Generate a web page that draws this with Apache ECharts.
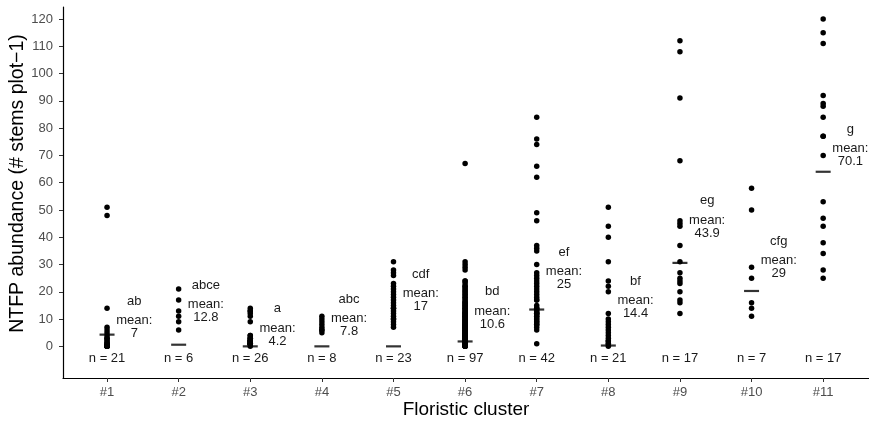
<!DOCTYPE html>
<html>
<head>
<meta charset="utf-8">
<script src="https://cdn.jsdelivr.net/npm/echarts@6/dist/echarts.min.js"></script>
<style>
  html, body { margin: 0; padding: 0; background: #fff; }
  #chart { width: 869px; height: 423px; }
</style>
</head>
<body>
<div id="chart"></div>
<script>
// Floristic clusters and their compact-letter groupings
const clusters = ['#1', '#2', '#3', '#4', '#5', '#6', '#7', '#8', '#9', '#10', '#11'];
const letters = ['ab', 'abce', 'a', 'abc', 'cdf', 'bd', 'ef', 'bf', 'eg', 'cfg', 'g'];

// NTFP abundance per plot, one array per cluster
const c1 = [51, 48, 14, 7, 6, 5, 4, 3, 3, 2, 2, 1, 1, 1, 0, 0, 0, 0, 0, 0, 0];
const c2 = [21, 17, 13, 11, 9, 6];
const c3 = [14, 13, 13, 12, 11, 9, 4, 4, 3, 3, 3, 2, 2, 2, 2, 2, 2, 1, 1, 1, 1, 1, 1, 1, 1, 0];
const c4 = [11, 10, 9, 8, 7, 6, 6, 5];
const c5 = [31, 28, 27, 26, 23, 22, 21, 20, 19, 18, 17, 16, 15, 14, 14, 13, 12, 11, 10, 10, 9, 8, 7];
const c6 = [67, 31, 30, 29, 28,
  24, 24, 23, 22, 22, 21, 21, 20, 20, 19, 19, 18, 18, 17, 17,
  16, 16, 16, 15, 15, 15, 14, 14, 14, 13, 13, 13,
  12, 12, 12, 12, 11, 11, 11, 11, 10, 10, 10, 10, 9, 9, 9, 9,
  8, 8, 8, 8, 8, 7, 7, 7, 7, 7, 6, 6, 6, 6, 6, 5, 5, 5, 5, 5,
  4, 4, 4, 4, 4, 4, 4, 4, 4,
  3, 3, 3, 3, 3, 2, 2, 2, 2, 2, 1, 1, 1, 1, 1, 0, 0, 0, 0, 0];
const c7 = [84, 76, 74, 66, 62, 49, 46, 37, 36, 35, 30,
  27, 26, 25, 24, 23, 22, 21, 20, 19, 18, 17,
  17, 15, 14, 14, 13, 13, 12, 12, 12, 11, 11, 10, 10, 9, 9, 8, 8, 7, 6, 1];
const c8 = [51, 44, 40, 31, 24, 22, 20, 12, 10, 9, 8, 7, 6, 5, 4, 3, 2, 2, 1, 1, 0];
const c9 = [112, 108, 91, 68, 46, 45, 44, 37, 31, 27, 25, 24, 23, 20, 17, 16, 12];
const c10 = [58, 50, 29, 25, 16, 14, 11];
const c11 = [120, 115, 111, 92, 89, 88, 84, 77, 77, 70, 53, 47, 44, 38, 34, 28, 25];
const groups = [c1, c2, c3, c4, c5, c6, c7, c8, c9, c10, c11];

// Horizontal bar drawn for each cluster
const centres = [4.3, 0.6, 0, 0, 0, 1.8, 13.5, 0.3, 30.6, 20.3, 64];

// Axis tick values
const yTicks = [0, 10, 20, 30, 40, 50, 60, 70, 80, 90, 100, 110, 120];
const xTicks = [1, 2, 3, 4, 5, 6, 7, 8, 9, 10, 11];

// Layout constants
const FONT = '"Liberation Sans", Arimo, Arial, Helvetica, sans-serif';
const LABEL_SHIFT = 0.38;   // annotation column to the right of each cluster
const N_ROW = -4.6;         // height of the "n = " row

const points = [];
groups.forEach((g, i) => g.forEach(v => points.push([i + 1, v])));
const centreData = centres.map((v, i) => [i + 1, v]);
const meanOf = g => g.reduce((a, b) => a + b, 0) / g.length;
const fmt = m => String(Math.round(m * 10) / 10);
const annot = groups.map((g, i) => [i + 1 + LABEL_SHIFT, meanOf(g), i]);
const nData = groups.map((g, i) => [i + 1, N_ROW, i]);

const chart = echarts.init(document.getElementById('chart'), null, { renderer: 'canvas' });
chart.setOption({
  animation: false,
  backgroundColor: '#fff',
  grid: { left: 63, right: 0, top: 7, bottom: 45, containLabel: false, outerBoundsMode: 'none' },
  xAxis: {
    type: 'value', min: 0.385, max: 11.64,
    name: 'Floristic cluster', nameLocation: 'middle', nameGap: 22, nameMoveOverlap: false,
    nameTextStyle: { fontFamily: FONT, fontSize: 19, color: '#000' },
    axisLine: { show: true, onZero: false, lineStyle: { color: '#000', width: 1.2 } },
    axisTick: { show: true, length: 4, customValues: xTicks, lineStyle: { color: '#333', width: 1 } },
    axisLabel: { customValues: xTicks, formatter: v => clusters[Math.round(v) - 1], fontFamily: FONT, fontSize: 13, color: '#4d4d4d', margin: 8 },
    splitLine: { show: false }
  },
  yAxis: {
    type: 'value', min: -11.6, max: 124.4,
    name: 'NTFP abundance (# stems plot\u22121)', nameLocation: 'middle', nameGap: 35, nameMoveOverlap: false,
    nameTextStyle: { fontFamily: FONT, fontSize: 19.5, color: '#000', padding: [0, 0, 0, 18] },
    axisLine: { show: true, onZero: false, lineStyle: { color: '#000', width: 1.2 } },
    axisTick: { show: true, length: 4, customValues: yTicks, lineStyle: { color: '#333', width: 1 } },
    axisLabel: { customValues: yTicks, fontFamily: FONT, fontSize: 13, color: '#4d4d4d', margin: 10 },
    splitLine: { show: false }
  },
  series: [
    {
      type: 'scatter', data: points, symbol: 'circle', symbolSize: 5.5,
      itemStyle: { color: '#000', opacity: 1 }, silent: true
    },
    {
      type: 'scatter', data: centreData, symbol: 'rect', symbolSize: [15, 2.2],
      itemStyle: { color: '#000' }, silent: true, z: 3
    },
    {
      type: 'custom', data: annot, silent: true, clip: false,
      renderItem: (params, api) => {
        const p = api.coord([api.value(0), api.value(1)]);
        const i = api.value(2);
        return {
          type: 'group',
          children: [
            { type: 'text', x: p[0], y: p[1] - 26,
              style: { text: letters[i], fill: '#1a1a1a', font: '13px ' + FONT, align: 'center', verticalAlign: 'middle' } },
            { type: 'text', x: p[0], y: p[1],
              style: { text: 'mean:\n' + fmt(meanOf(groups[i])), fill: '#1a1a1a', font: '13px ' + FONT, align: 'center', verticalAlign: 'middle', lineHeight: 13 } }
          ]
        };
      }
    },
    {
      type: 'custom', data: nData, silent: true, clip: false,
      renderItem: (params, api) => {
        const p = api.coord([api.value(0), api.value(1)]);
        const i = api.value(2);
        return { type: 'text', x: p[0], y: p[1],
          style: { text: 'n = ' + groups[i].length, fill: '#1a1a1a', font: '13px ' + FONT, align: 'center', verticalAlign: 'middle' } };
      }
    }
  ]
});
</script>
</body>
</html>
